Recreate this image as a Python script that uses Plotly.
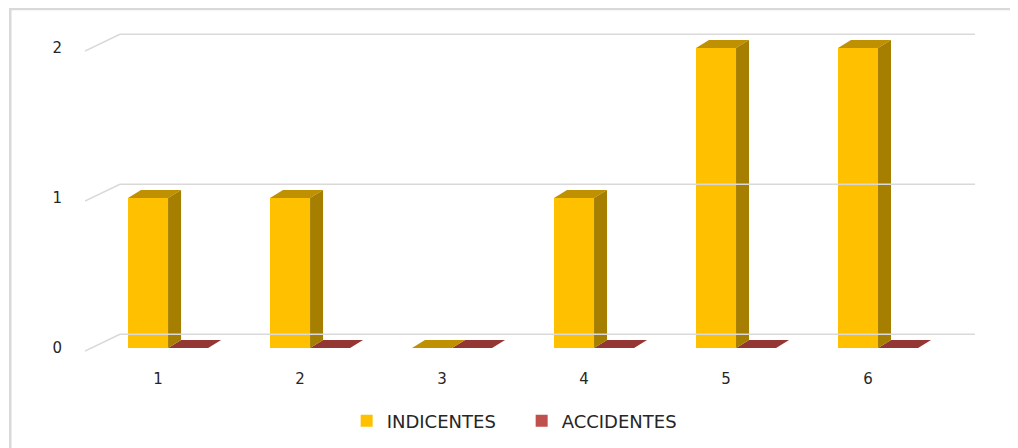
import plotly.graph_objects as go

categories = [1, 2, 3, 4, 5, 6]
tick_labels = ["1", "2", "3", "4", "5", "6"]
indicentes = [1, 1, 0, 1, 2, 2]
accidentes = [0, 0, 0, 0, 0, 0]
y_ticks = [0, 1, 2]

# geometry (data units)
BAR_W = 0.282
OFF_IND = -0.211
OFF_ACC = OFF_IND + BAR_W
DX, DY = 0.0915, 0.053          # bar depth
WDX, WDY = 0.246, 0.092         # back wall depth
X0, X1 = 0.486, 6.754
Y0, Y1 = -0.1, 2.18

FONT = "DejaVu Sans"
fig = go.Figure()

shapes = []
for v in y_ticks:
    shapes.append(dict(type="line", xref="x", yref="y", x0=X0, y0=v - 0.02,
                       x1=X0 + WDX, y1=v + WDY, line=dict(color="#D9D9D9", width=1.5)))
    shapes.append(dict(type="line", xref="x", yref="y", x0=X0 + WDX, y0=v + WDY,
                       x1=X1, y1=v + WDY, line=dict(color="#D9D9D9", width=1.5)))
shapes.append(dict(type="rect", xref="paper", yref="paper", x0=-0.084, x1=1.042,
                   y0=-0.35, y1=1.035, line=dict(color="#D9D9D9", width=2.5), layer="below"))


def faces(vals, off, front, side, top, name):
    for c, v in zip(categories, vals):
        xl = c + off
        xr = xl + BAR_W
        fig.add_trace(go.Scatter(x=[xl, xr, xr + DX, xl + DX, xl], y=[v, v, v + DY, v + DY, v],
                                 fill="toself", fillcolor=top, mode="lines",
                                 line=dict(width=0, color=top), showlegend=False, hoverinfo="skip"))
        if v > 0:
            fig.add_trace(go.Scatter(x=[xr, xr + DX, xr + DX, xr, xr], y=[0, DY, v + DY, v, 0],
                                     fill="toself", fillcolor=side, mode="lines",
                                     line=dict(width=0, color=side), showlegend=False, hoverinfo="skip"))
    fig.add_trace(go.Bar(x=categories, y=vals, width=BAR_W, offset=off, name=name,
                         marker=dict(color=front, line=dict(width=0))))


faces(accidentes, OFF_ACC, "#C0504D", "#7F2F2D", "#943634", "ACCIDENTES")
faces(indicentes, OFF_IND, "#FFC000", "#A67F00", "#BF9000", "INDICENTES")

fig.update_layout(
    width=1018, height=448,
    margin=dict(l=77, r=51, t=13, b=93),
    paper_bgcolor="white", plot_bgcolor="white",
    barmode="overlay",
    shapes=shapes,
    xaxis=dict(range=[X0, X1], tickvals=categories, ticktext=tick_labels,
               showgrid=False, zeroline=False, showline=False, ticks="",
               ticklabelstandoff=5,
               tickfont=dict(family=FONT, size=15, color="#262626")),
    yaxis=dict(range=[Y0, Y1], tickvals=y_ticks, ticktext=[str(v) for v in y_ticks],
               showgrid=False, zeroline=False, showline=False, ticks="",
               ticklabelstandoff=22,
               tickfont=dict(family=FONT, size=15, color="#262626")),
    legend=dict(orientation="h", x=0.294, xanchor="left", y=-0.17, yanchor="middle",
                traceorder="reversed", font=dict(family=FONT, size=18, color="#262626"),
                entrywidth=130, entrywidthmode="pixels"),
    showlegend=True,
)

fig.write_html("out.html")
